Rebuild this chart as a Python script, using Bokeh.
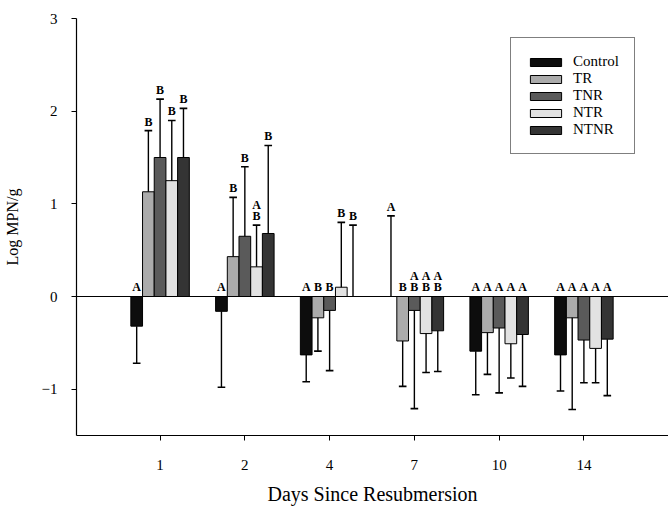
from bokeh.plotting import figure
from bokeh.models import Range1d, Span, FixedTicker, Legend, LegendItem, ColumnDataSource
from bokeh.core.properties import value
from bokeh.embed import file_html
from bokeh.resources import INLINE

# ---- data ----
days = ["1", "2", "4", "7", "10", "14"]
series = ["Control", "TR", "TNR", "NTR", "NTNR"]
colors = ["#0d0d0d", "#ababab", "#5a5a5a", "#e2e2e2", "#343434"]

control = [-0.32, -0.16, -0.63, 0.0, -0.59, -0.63]
tr      = [1.13, 0.43, -0.23, -0.48, -0.39, -0.23]
tnr     = [1.50, 0.65, -0.15, -0.15, -0.34, -0.47]
ntr     = [1.25, 0.32, 0.10, -0.40, -0.51, -0.56]
ntnr    = [1.50, 0.68, 0.0, -0.37, -0.41, -0.46]

control_err = [-0.72, -0.98, -0.92, 0.87, -1.06, -1.02]
tr_err      = [1.79, 1.07, -0.59, -0.97, -0.84, -1.22]
tnr_err     = [2.13, 1.40, -0.80, -1.21, -1.04, -0.93]
ntr_err     = [1.90, 0.77, 0.80, -0.82, -0.88, -0.93]
ntnr_err    = [2.03, 1.63, 0.77, -0.81, -0.97, -1.07]

control_sig = ["A", "A", "A", "A", "A", "A"]
tr_sig      = ["B", "B", "B", "B", "A", "A"]
tnr_sig     = ["B", "B", "B", "AB", "A", "A"]
ntr_sig     = ["B", "AB", "B", "AB", "A", "A"]
ntnr_sig    = ["B", "B", "B", "AB", "A", "A"]

values = [control, tr, tnr, ntr, ntnr]
ends = [control_err, tr_err, tnr_err, ntr_err, ntnr_err]
sigs = [control_sig, tr_sig, tnr_sig, ntr_sig, ntnr_sig]

FONT = "Liberation Serif"

p = figure(width=668, height=507, output_backend="svg", toolbar_location=None,
           x_range=Range1d(0.014, 6.998), y_range=Range1d(-1.5, 3.0),
           min_border_left=73, min_border_right=0, min_border_top=18, min_border_bottom=72)
p.outline_line_color = None
p.xgrid.visible = False
p.ygrid.visible = False
p.background_fill_color = "white"
p.border_fill_color = "white"

bw = 0.138
cap = 0.045
renderers = []
for j, name in enumerate(series):
    xs = [i + 1 + (j - 2) * bw for i in range(len(days))]
    vals = values[j]
    en = ends[j]
    src = ColumnDataSource(dict(x=xs, top=vals, end=en))
    r = p.vbar(x="x", top="top", bottom=0, width=bw, source=src,
               fill_color=colors[j], line_color="black", line_width=1)
    renderers.append(r)
    p.segment(x0="x", y0="top", x1="x", y1="end", source=src, line_color="black", line_width=1.4)
    p.segment(x0=[x - cap for x in xs], y0=en, x1=[x + cap for x in xs], y1=en,
              line_color="black", line_width=1.6)
    # significance letters
    lx, ly, lt, loff = [], [], [], []
    for i, s in enumerate(sigs[j]):
        anchor = en[i] if vals[i] >= 0 else 0.0
        base = -2 if vals[i] >= 0 else -3
        for k, ch in enumerate(reversed(list(s))):
            lx.append(xs[i]); ly.append(anchor); lt.append(ch); loff.append(base - 11 * k)
    p.text(x=lx, y=ly, text=lt, y_offset=loff, text_align="center", text_baseline="bottom",
           text_font=value(FONT), text_font_size="12px", text_font_style="bold", text_color="black")

p.add_layout(Span(location=0, dimension="width", line_color="black", line_width=1.2))

legend = Legend(items=[LegendItem(label=n, renderers=[r]) for n, r in zip(series, renderers)],
                location=(434, 281), orientation="vertical")
legend.label_text_font = FONT
legend.label_text_font_size = "15px"
legend.label_text_color = "black"
legend.glyph_width = 39
legend.glyph_height = 10
legend.label_height = 14
legend.spacing = 0
legend.padding = 15
legend.margin = 0
legend.border_line_color = "black"
legend.border_line_width = 1
legend.background_fill_alpha = 1
legend.label_standoff = 8
p.add_layout(legend, "center")

xa = p.xaxis[0]
xa.ticker = FixedTicker(ticks=list(range(1, len(days) + 1)))
xa.major_label_overrides = {i + 1: d for i, d in enumerate(days)}
xa.axis_label = "Days Since Resubmersion"
ya = p.yaxis[0]
ya.ticker = FixedTicker(ticks=[-1, 0, 1, 2, 3])
ya.axis_label = "Log MPN/g"
for ax in (xa, ya):
    ax.axis_line_color = "black"
    ax.axis_line_width = 1.2
    ax.major_tick_line_color = "black"
    ax.major_tick_out = 5
    ax.major_tick_in = 0
    ax.minor_tick_line_color = None
    ax.major_label_text_font = FONT
    ax.major_label_text_font_size = "15px"
    ax.major_label_text_color = "black"
    ax.axis_label_text_font = FONT
    ax.axis_label_text_font_style = "normal"
    ax.axis_label_text_color = "black"
xa.axis_label_text_font_size = "20px"
ya.axis_label_text_font_size = "16px"
xa.major_label_standoff = 19
xa.axis_label_standoff = 10
ya.major_label_standoff = 14
ya.axis_label_standoff = 18

open("out.html", "w").write(file_html(p, INLINE))
